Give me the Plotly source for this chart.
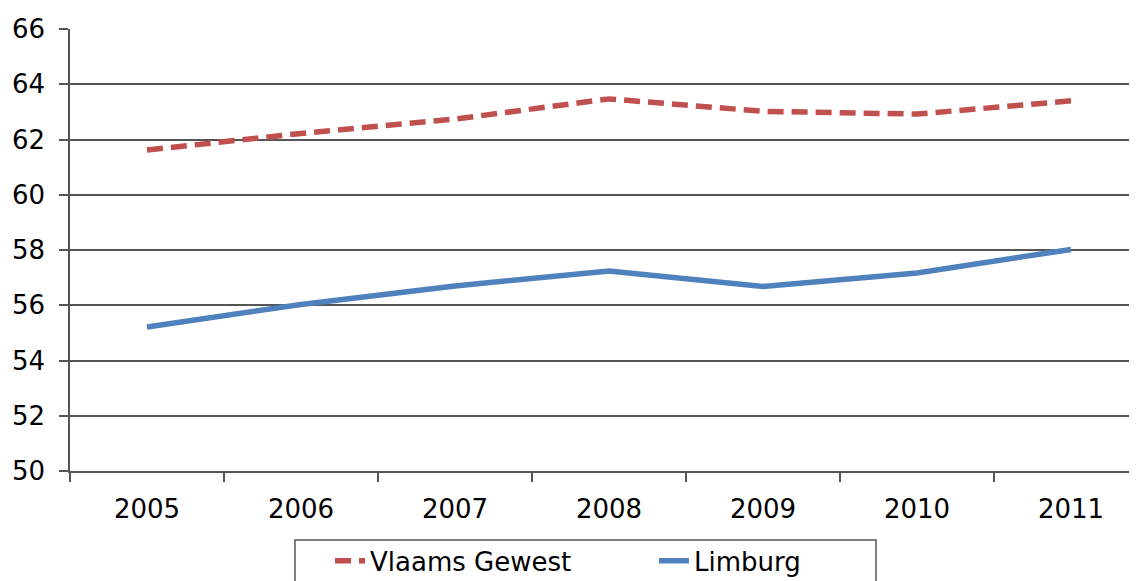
import plotly.graph_objects as go

years = ["2005", "2006", "2007", "2008", "2009", "2010", "2011"]
vlaams = [61.62, 62.22, 62.74, 63.47, 63.02, 62.92, 63.40]
limburg = [55.21, 56.03, 56.70, 57.24, 56.68, 57.17, 58.02]
y_ticks = [50, 52, 54, 56, 58, 60, 62, 64, 66]

fig = go.Figure()
fig.add_trace(go.Scatter(x=years, y=vlaams, mode="lines", name="Vlaams Gewest",
                         line=dict(color="#C0504D", width=5.5, dash="16px,8px")))
fig.add_trace(go.Scatter(x=years, y=limburg, mode="lines", name="Limburg",
                         line=dict(color="#4F81BD", width=5.5)))

# legend frame (screen pixel positions converted to paper coordinates)
fig.add_shape(type="rect", xref="paper", yref="paper",
              x0=(295 - 70) / 1067, x1=(876 - 70) / 1067,
              y0=(471 - 540) / 442, y1=(471 - 600) / 442,
              line=dict(color="#555555", width=1.5), fillcolor="rgba(0,0,0,0)")

fig.update_layout(
    width=1129, height=573,
    margin=dict(l=62, r=0, t=21, b=110, autoexpand=False),
    paper_bgcolor="white", plot_bgcolor="white",
    font=dict(family="DejaVu Sans", size=26, color="black"),
    showlegend=True,
    legend=dict(orientation="h", x=(330 - 70) / 1067, xanchor="left", y=-0.150, yanchor="top",
                borderwidth=0, bgcolor="rgba(0,0,0,0)", font=dict(size=26),
                entrywidth=279, entrywidthmode="pixels"),
    xaxis=dict(type="category", range=[-0.5, -0.5 + 1067 / 154], tickson="boundaries",
               ticks="outside", ticklen=9, tickcolor="#555555", tickwidth=1.5,
               showgrid=False, showline=True, linecolor="#555555", linewidth=1.5,
               tickfont=dict(size=26), ticklabelstandoff=14, automargin=False),
    yaxis=dict(range=[50, 66], tickvals=y_ticks, ticks="outside", ticklen=9,
               tickcolor="#555555", tickwidth=1.5, showgrid=True, gridcolor="#555555",
               gridwidth=1.5, showline=True, linecolor="#555555", linewidth=1.5,
               zeroline=False, tickfont=dict(size=26), ticklabelstandoff=9,
               automargin=False),
)

fig.write_html("out.html")
